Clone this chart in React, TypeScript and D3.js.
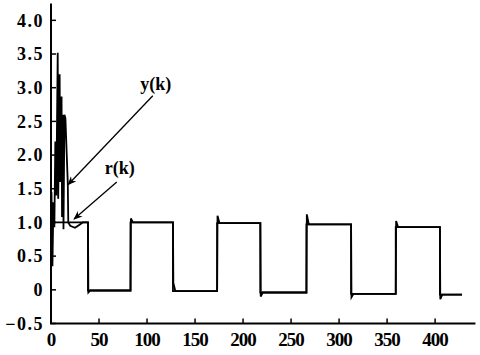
import React from "react";
import * as d3 from "d3";

// ---- data ----
const xTicks = [0, 50, 100, 150, 200, 250, 300, 350, 400];
const yTicks = [-0.5, 0, 0.5, 1.0, 1.5, 2.0, 2.5, 3.0, 3.5, 4.0];

// start-up transient of y(k)
const transientK = [0, 0.5, 1.5, 2.5, 3.5, 4.5, 5.5, 7, 7.5, 9, 9.5, 11, 11.5, 12.5, 13, 14, 15, 17.5, 18, 20, 25, 29, 33];
const transientY = [0, 1.45, 0.35, 1.3, 0.93, 2.2, 1.4, 3.52, 1.35, 3.2, 1.6, 2.87, 1.08, 2.6, 0.9, 2.6, 2.55, 1.57, 1.0, 0.95, 0.92, 0.96, 1.0];

// square-wave reference r(k): switching instants and segment levels
const switchK = [38.5, 82.8, 127, 173, 218, 266, 312.5, 359, 405];
const levelY = [1.0, -0.01, 1.0, -0.02, 0.99, -0.04, 0.97, -0.06, 0.93, -0.07];
// small overshoot of y(k) right after each switch
const blipY = [-0.04, 1.06, 0.1, 1.1, -0.1, 1.12, -0.11, 1.02, -0.14];
const endK = 428;
const axisEndK = 442;

// annotations (data coordinates)
const labels = ["y(k)", "r(k)"];
const labelK = [93, 56];
const labelV = [2.97, 1.72];
const arrowFromK = [106, 68.5];
const arrowFromV = [2.88, 1.6];
const arrowToK = [17.7, 24];
const arrowToV = [1.56, 1.05];

const W = 480;
const H = 355;

export default function App() {
  const x = d3.scaleLinear().domain([0, endK]).range([51, 462]);
  const y = d3.scaleLinear().domain([-0.5, 4.25]).range([323.5, 3.5]);

  // r(k)
  const rPts: [number, number][] = [[0, 0]];
  levelY.forEach((lv, i) => {
    const k0 = i === 0 ? 0 : switchK[i - 1];
    const k1 = i < switchK.length ? switchK[i] : endK;
    rPts.push([k0, lv], [k1, lv]);
  });

  // y(k)
  const yPts: [number, number][] = transientK.map((k, i) => [k, transientY[i]]);
  switchK.forEach((k, i) => {
    yPts.push([k, levelY[i]]);
    yPts.push([k + 0.4, blipY[i]]);
    yPts.push([k + 2.5, levelY[i + 1]]);
    const next = i + 1 < switchK.length ? switchK[i + 1] : endK;
    yPts.push([next, levelY[i + 1]]);
  });

  const line = d3
    .line<[number, number]>()
    .x((d) => x(d[0]))
    .y((d) => y(d[1]));

  const fmt = (d: number) => (d === 0 ? "0" : d3.format(".1f")(d));
  const font = "'Liberation Serif', 'Times New Roman', serif";

  return (
    <svg
      width={W}
      height={H}
      style={{ position: "absolute", left: 0, top: 0, background: "#fff" }}
    >
      <defs>
        <marker
          id="arr"
          viewBox="0 0 10 10"
          refX="9"
          refY="5"
          markerWidth="9"
          markerHeight="9"
          orient="auto"
          markerUnits="userSpaceOnUse"
        >
          <path d="M0,1 L10,5 L0,9 L3,5 Z" fill="#000" />
        </marker>
      </defs>

      {/* axes */}
      <line x1={x(0)} x2={x(0)} y1={y(4.25)} y2={y(-0.5)} stroke="#000" strokeWidth={2} />
      <line x1={x(0) - 1} x2={x(axisEndK)} y1={y(-0.5)} y2={y(-0.5)} stroke="#000" strokeWidth={2} />

      {yTicks.map((t) => (
        <g key={"y" + t}>
          <line x1={x(0)} x2={x(0) + 5} y1={y(t)} y2={y(t)} stroke="#000" strokeWidth={1.5} />
          <text
            x={44}
            y={y(t)}
            dy="0.35em"
            textAnchor="end"
            fontFamily={font}
            fontWeight="bold"
            fontSize={18}
            letterSpacing={1.5}
          >
            {fmt(t)}
          </text>
        </g>
      ))}

      {xTicks.map((t) => (
        <g key={"x" + t}>
          <line x1={x(t)} x2={x(t)} y1={y(-0.5)} y2={y(-0.5) - 5} stroke="#000" strokeWidth={1.5} />
          <text
            x={x(t)}
            y={346}
            textAnchor="middle"
            fontFamily={font}
            fontWeight="bold"
            fontSize={19}
            letterSpacing={-1}
          >
            {t}
          </text>
        </g>
      ))}

      {/* series */}
      <path d={line(rPts) || ""} fill="none" stroke="#000" strokeWidth={1.8} />
      <path d={line(yPts) || ""} fill="none" stroke="#000" strokeWidth={1.8} strokeLinejoin="miter" />

      {/* annotations */}
      {labels.map((l, i) => (
        <g key={l}>
          <line
            x1={x(arrowFromK[i])}
            y1={y(arrowFromV[i])}
            x2={x(arrowToK[i])}
            y2={y(arrowToV[i])}
            stroke="#000"
            strokeWidth={1.3}
            markerEnd="url(#arr)"
          />
          <text
            x={x(labelK[i])}
            y={y(labelV[i])}
            fontFamily={font}
            fontWeight="bold"
            fontSize={18}
          >
            {l}
          </text>
        </g>
      ))}
    </svg>
  );
}
